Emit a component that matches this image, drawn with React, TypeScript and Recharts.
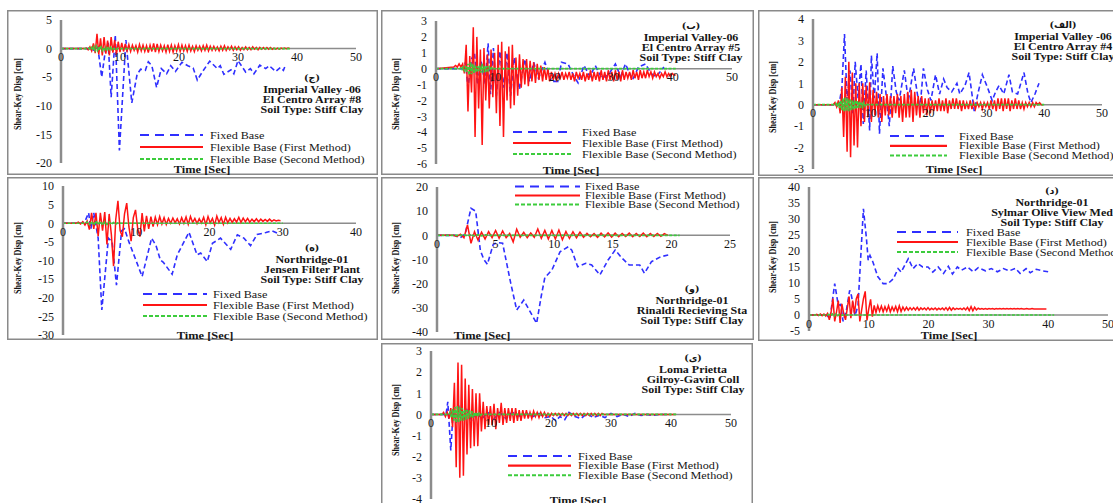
import { LineChart, Line, XAxis, YAxis, ReferenceLine, ReferenceDot } from 'recharts';

const SERIF = 'Liberation Serif';
const BLUE = '#2f2fff';
const RED = '#ff1414';
const GREEN = '#3ccc3c';
const AXIS = '#8c8c8c';
const FRAME = '#8a8a8a';
const INK = '#161616';
const Y_W = 40;

type Pt = { t: number; v: number };

// turning points: [time, displacement]
const pts = (rows: number[][]): Pt[] => rows.map(([t, v]) => ({ t, v }));

// evenly sampled record, at rest before `start`, optionally flat after the last sample
const samples = (start: number, step: number, values: number[], restUntil?: number): Pt[] => {
  const out: Pt[] = [{ t: 0, v: 0 }];
  values.forEach((v, i) => out.push({ t: Math.round((start + i * step) * 100) / 100, v }));
  if (restUntil !== undefined) out.push({ t: restUntil, v: 0 });
  return out;
};

const LEGEND_NAMES = ['Fixed Base', 'Flexible Base (First Method)', 'Flexible Base (Second Method)'];

// ---- Imperial Valley-06, El Centro Array #8 ----
const ec8Fixed = [[0, 0], [5, 0], [5.6, -0.3], [6.2, 0.5], [6.9, -5], [7.5, -0.5], [8.0, 1.0], [8.5, -8.5], [9.2, 2.4], [9.9, -17.8], [11.0, 1.5], [12.0, -9.5], [12.9, -4.5], [13.5, -3.6], [14.3, -3.8], [14.8, -2.3], [15.4, -3], [16.2, -6.8], [17.0, -3.5], [17.9, -4.4], [18.6, -3], [19.4, -4], [20.5, -2.4], [21.5, -3], [22.4, -3.4], [23.1, -5.5], [24.0, -4], [25.2, -2.2], [26.5, -3.5], [27.0, -3], [27.6, -4.5], [28.8, -3.7], [29.3, -4.4], [30.0, -2.1], [31.3, -4.1], [32.1, -3.5], [32.7, -4.4], [33.7, -2.9], [34.7, -3.5], [35.3, -3], [36.4, -4], [37.2, -3.3], [37.7, -3.8], [38.0, -3]];
const ec8First = [0, 0.1, -0.2, 0.3, -0.4, 0.9, -0.8, 2.6, -1.0, 1.8, -1.2, 2.0, -0.9, 1.4, -1.2, 2.0, -0.7, 1.5, -1.0, 1.2, -0.6, 1.0, -0.5, 0.8, -0.4, 0.7, -0.5, 0.6, -0.3, 0.5, -0.6, 0.7, -0.4, 0.6, -0.5, 0.5, -0.7, 0.6, -0.5, 0.9, -0.6, 0.8, -0.5, 0.6, -0.4, 0.5, -0.6, 0.7, -0.5, 0.6, -0.6, 0.5, -0.4, 0.7, -0.5, 0.6, -0.4, 0.5, -0.5, 0.6, -0.4, 0.4, -0.5, 0.5, -0.3, 0.4, -0.4, 0.5, -0.3, 0.6, -0.4, 0.4, -0.3, 0.4, -0.3, 0.3, -0.4, 0.4, -0.3, 0.5, -0.3, 0.3, -0.2, 0.4, -0.3, 0.3, -0.2, 0.3, -0.3, 0.2, -0.2, 0.3, -0.2, 0.2, -0.2, 0.3, -0.1, 0.2, -0.2, 0.2, -0.1, 0.2, -0.1, 0.2, -0.1, 0.2, -0.1, 0.1, -0.1, 0.1, -0.1, 0.1, 0, 0.1, 0, 0.1, 0];
const ec8Second = [0, 0.1, -0.1, 0.2, -0.3, 0.3, -0.3, 0.35, -0.3, 0.3, -0.25, 0.25, -0.3, 0.2, -0.2, 0.2, -0.2, 0.15, -0.15, 0.2, -0.15, 0.1, -0.1, 0.1, -0.1, 0.05, 0];

// ---- Imperial Valley-06, El Centro Array #5 ----
const ec5Fixed = [[0, 0], [4.5, 0], [5.0, 0.4], [5.4, -1.2], [6.0, 0.6], [6.5, 1.0], [7.0, -1.0], [7.6, 0.5], [8.3, -1.0], [8.8, 1.6], [9.2, -1.6], [9.7, 1.3], [10.2, -1.7], [10.8, 1.1], [11.4, -1.2], [12.0, 1.0], [12.6, -1.7], [13.2, 0.7], [14.1, -1.3], [15.0, 0.6], [15.8, -0.8], [16.5, 0.4], [17.3, -0.6], [18.4, 0.4], [19.5, -0.8], [20.6, -0.8], [21.2, 0.4], [22.3, 0.3], [23.2, -0.4], [24.0, -0.9], [25.0, 0.2], [26.0, -0.5], [26.9, 0.2], [28.0, -0.6], [29.1, -0.4], [30.3, 0.3], [31.2, -0.5], [32.0, 0.3], [33.2, -0.7], [34.2, 0.1], [35.4, 0.3], [36.3, -0.3], [37.2, -0.5], [38.5, 0.1]];
const ec5First = [0.1, 0.2, 0.1, 0.3, 0.1, 0.3, -0.3, 1.5, -2.7, 0.8, -1.5, 2.6, -4.3, 2.0, -2.5, 1.2, -4.8, 1.3, -2.0, 0.9, -2.5, 1.2, -1.8, 1.0, -2.8, 1.5, -3.6, 1.7, -4.3, 1.1, -2.0, 1.4, -2.5, 1.5, -2.3, 0.7, -1.7, 0.9, -1.2, 0.6, -1.0, 0.6, -1.1, 0.5, -0.8, 0.4, -0.9, 0.3, -0.7, 0.2, -0.8, 0.1, -0.7, 0, -0.8, -0.2, -0.7, -0.3, -0.7, -0.3, -0.6, -0.2, -0.7, -0.3, -0.6, -0.2, -0.7, -0.3, -0.8, -0.2, -0.6, -0.3, -0.7, -0.2, -0.8, -0.3, -0.7, -0.1, -0.8, -0.2, -0.7, -0.2, -0.8, -0.1, -0.7, -0.2, -0.8, -0.1, -0.7, -0.2, -0.8, -0.1, -0.7, -0.2, -0.8, -0.1, -0.7, -0.2, -0.6, -0.2, -0.7, -0.1, -0.6, -0.2, -0.7, -0.1, -0.6, -0.2, -0.6, -0.1, -0.5, -0.2, -0.6, -0.2, -0.5, -0.3, -0.6, -0.3, -0.5, -0.2, -0.5, -0.3, -0.5, -0.3, -0.4, -0.4];
const ec5Second = [0, 0.05, -0.05, 0.1, -0.1, 0.15, -0.2, 0.3, -0.4, 0.4, -0.35, 0.3, -0.3, 0.2, -0.2, 0.15, -0.15, 0.2, -0.25, 0.3, -0.25, 0.2, -0.2, 0.15, -0.1, 0.1, -0.1, 0.05, -0.05, 0];

// ---- Imperial Valley-06, El Centro Array #4 ----
const ec4Fixed = [[0, 0], [4.5, 0], [5.0, 0.8], [5.45, 3.3], [5.9, 0.2], [6.4, 1.6], [6.9, -0.4], [7.3, 2.0], [7.8, 0.3], [8.3, 1.9], [8.7, -0.9], [9.2, 1.6], [9.8, -1.2], [10.1, 2.3], [10.6, 0.3], [11.1, 2.4], [11.5, -1.35], [12.1, 1.7], [12.6, 0.6], [13.2, -1.0], [13.8, 1.8], [14.4, 0.6], [14.9, 0.2], [15.8, 1.6], [16.5, 0.2], [17.4, 1.7], [18.0, 0.6], [18.5, -0.2], [19.1, 1.7], [19.8, 0.7], [20.4, 0.2], [21.2, 1.4], [21.9, 0.5], [22.6, 1.2], [23.2, 0.8], [24.0, 0.6], [24.9, 1.0], [25.4, 0.5], [26.3, 0.9], [27.0, 1.5], [27.5, 0.5], [27.9, -0.3], [28.6, 0.6], [29.3, 1.4], [30.2, 0.8], [31.0, 0.2], [31.6, 0.6], [32.2, 0.9], [33.0, 0.5], [33.9, 1.4], [34.5, 0.6], [35.4, 0.5], [36.5, 1.5], [37.2, 0.5], [37.7, 0.1], [38.4, 0.5], [39.1, 1.0]];
const ec4First = [0, 0.1, -0.1, 0.2, -0.4, 0.8, -1.5, 1.3, -2.2, 2.0, -2.45, 1.5, -1.9, 1.0, -2.0, 1.0, -1.0, 1.0, -0.8, 0.9, -0.6, 1.05, -0.8, 0.7, -0.5, 0.6, -0.6, 0.5, -0.8, 0.4, -0.5, 0.5, -0.5, 0.4, -0.6, 0.4, -0.4, 0.5, -0.6, 0.4, -0.8, 0.5, -0.6, 0.6, -0.6, 0.7, -0.8, 0.6, -0.5, 0.4, -0.6, 0.4, -0.4, 0.3, -0.5, 0.3, -0.4, 0.2, -0.3, 0.2, -0.3, 0.3, -0.3, 0.2, -0.3, 0.3, -0.4, 0.2, -0.2, 0.3, -0.2, 0.3, -0.2, 0.2, -0.3, 0.2, -0.2, 0.1, -0.2, 0.2, -0.2, 0.1, -0.2, 0.1, -0.1, 0.1, -0.2, 0.1, -0.1, 0.1, -0.2, 0.2, -0.2, 0.2, -0.3, 0.3, -0.2, 0.3, -0.3, 0.3, -0.2, 0.3, -0.3, 0.2, -0.2, 0.3, -0.2, 0.2, -0.2, 0.1, -0.2, 0.1, -0.1, 0.1, -0.1, 0.1, -0.1, 0.1, 0, 0.1, 0, 0];
const ec4Second = [0, 0.05, -0.1, 0.1, -0.15, 0.2, -0.25, 0.3, -0.3, 0.35, -0.3, 0.3, -0.3, 0.25, -0.25, 0.2, -0.25, 0.2, -0.2, 0.2, -0.15, 0.15, -0.15, 0.1, -0.1, 0.1, -0.05, 0.05, 0];

// ---- Northridge-01, Jensen Filter Plant ----
const jensenFixed = [[0, 0], [2.5, 0], [3.0, 0.5], [3.5, 2.8], [3.8, -1.5], [4.2, 2.8], [4.8, -4], [5.3, -23.3], [6.2, -4], [6.7, -5], [7.3, -16.6], [8.0, -2], [8.4, -1.5], [9.0, -5], [10.8, -14.3], [12.1, -4.0], [12.7, -6], [13.3, -9.9], [13.7, -10.5], [14.9, -13.7], [15.6, -8.5], [17.2, -2.4], [18.3, -8.5], [18.8, -8], [19.7, -10.3], [20.4, -5.4], [21.5, -4], [22.2, -5.5], [22.9, -7], [23.8, -3.1], [24.7, -4], [25.6, -6], [26.5, -3], [27.7, -2.5], [28.5, -2.0], [29.3, -2.7]];
const jensenFirst = [0, 0.3, -0.2, 0.4, -0.5, 0.6, -1.7, 2.8, -1.5, 2.8, -3.5, 2.8, -2.0, 3.0, -5.7, 2.5, -3.0, -11.5, 1.0, 6.0, -2.0, -3.6, 2.5, 5.4, -1.0, -4.8, 1.5, 3.6, -1.5, -3.6, 2.7, -2.2, 2.0, -1.5, 1.8, -0.9, 1.6, -0.4, 1.8, -0.2, 1.5, -0.3, 1.3, 0, 1.4, 0.1, 1.2, -0.2, 1.5, 0, 1.7, -0.3, 1.8, 0.2, 1.3, -0.1, 1.2, 0.1, 1.6, -0.4, 1.8, 0.1, 1.3, -0.5, 1.9, 0.2, 1.5, -0.3, 1.6, 0.1, 1.3, 0.2, 1.2, 0.3, 1.6, 0.2, 1.4, 0.4, 1.3, 0.3, 1.1, 0.4, 1.2, 0.4, 1.1, 0.5, 1.0, 0.5, 1.1, 0.5, 0.9, 0.6, 0.8, 0.7];
const jensenSecond = [0, 0.3, -0.3, 0.5, -0.5, 0.6, -0.4, 0.5, -0.5, 0.4, -0.3, 0.3, -0.3, 0.2, -0.2, 0.1, 0];

// ---- Northridge-01, Rinaldi Recieving Sta ----
const rinaldiFixed = [[0, 0], [1.5, 0], [2.0, -1], [2.4, 0.5], [2.9, 11.2], [3.3, 10], [3.7, -6.3], [4.0, -10], [4.3, -12], [4.8, -3.7], [5.2, -3], [5.6, -3.3], [6.3, -20], [6.8, -30.9], [7.4, -26.8], [8.5, -36.4], [8.9, -25], [9.2, -17.5], [9.8, -14.4], [10.5, -6.8], [11.2, -4.7], [11.5, -6.1], [12.0, -13], [12.7, -11.6], [13.2, -12.3], [13.9, -16.4], [14.6, -10.2], [15.2, -6.1], [15.8, -9.5], [16.4, -12.3], [17.3, -12.3], [17.7, -15.7], [18.3, -10.9], [19.1, -8.8], [19.8, -8.1]];
const rinaldiFirst = [0, -0.5, 0.5, -1.0, 4.3, -3.3, 1.5, -2.0, 1.3, -1.5, 1.5, -1.0, 2.0, -1.2, 1.8, -1.0, 0.8, -2.7, 2.5, -0.8, 1.2, -1.0, 1.0, -0.8, 2.6, -1.2, 2.0, -1.5, 2.0, -1.5, 2.2, -1.8, 1.6, -1.3, 1.5, -1.0, 1.3, -0.8, 0.8, -0.6, 0.7, -0.8, 0.9, -0.6, 1.0, -0.7, 0.9, -0.6, 0.8, -0.5, 0.9, -0.6, 0.8, -0.5, 0.9, -0.6, 0.8, -0.5, 0.8, -0.4, 0.7, 0];
const rinaldiSecond = [0, 0.3, -0.3, 0.4, -0.3, 0.3, -0.2, 0.2, 0];

// ---- Northridge-01, Sylmar Olive View Med ----
const sylmarFixed = [[0, 0], [3.0, 0], [3.5, -1.2], [4.3, 9.8], [4.9, 3], [5.3, 3.3], [5.7, -2], [6.3, 2], [6.8, 7.7], [7.1, 6], [7.7, -0.2], [8.2, 3], [9.1, 33.2], [9.6, 24], [9.9, 17.1], [10.2, 18.6], [10.7, 16.5], [11.5, 12], [12.4, 9.8], [13.2, 9.8], [14.1, 11.3], [14.9, 14.5], [15.4, 13.4], [16.6, 17.6], [17.4, 14.5], [18.2, 16.1], [19.0, 15], [19.9, 15.0], [20.7, 13.4], [21.6, 15], [22.5, 13], [23.3, 15.2], [24.0, 12.8], [24.8, 15], [25.5, 14], [26.5, 15], [27.5, 13.5], [28.3, 14.8], [29.5, 13.8], [30.5, 14.5], [31.5, 13.5], [32.5, 14.5], [33.5, 13.8], [34.5, 14.6], [35.3, 13], [36.3, 14.5], [37.0, 13.2], [38.0, 14.3], [39.0, 13.8], [40.0, 13.5]];
const sylmarFirst = [0, 0.2, -0.2, 0.3, -0.2, 0.3, -0.3, 0.5, -1.5, 1.0, 5.1, -2.0, 1.0, 4.5, -2.5, 3.5, 0.5, -1.5, 2.0, 5.8, -1.0, 4.5, 0.5, 5.0, 6.6, -2.0, 1.5, 5.0, 7.4, -1.7, 2.0, 4.9, -0.5, 3.0, 0.8, 2.9, 1.2, 2.8, 1.0, 2.6, 1.2, 2.9, 1.0, 2.5, 1.3, 2.7, 1.0, 2.9, 1.1, 2.5, 1.4, 2.4, 1.5, 2.3, 1.6, 2.3, 1.6, 2.4, 1.5, 2.2, 1.7, 2.2, 1.6, 2.3, 1.6, 2.1, 1.7, 2.2, 1.6, 2.1, 1.7, 2.2, 1.6, 2.3, 1.5, 2.4, 1.5, 2.2, 1.7, 2.1, 1.8, 2.1, 1.7, 2.2, 1.6, 2.4, 1.4, 2.6, 1.3, 2.4, 1.6, 2.1, 1.8, 2.0, 1.8, 2.0, 1.8, 2.0, 1.9, 2.0, 1.8, 2.0, 1.9, 2.0, 1.9, 2.0, 1.9, 2.0, 1.9, 2.0, 1.9, 2.0, 1.9, 2.0, 1.9, 2.0, 1.9, 1.9, 2.0, 1.9, 1.9, 2.0, 1.9, 1.9, 1.9, 1.9, 1.9, 1.9, 1.9, 1.9];
const sylmarSecond = [0, 0.2, -0.2, 0.3, -0.3, 0.3, -0.2, 0.2, -0.1, 0];

// ---- Loma Prieta, Gilroy-Gavin Coll ----
const gilroyFixed = [[0, 0], [2.5, 0], [2.8, 0.6], [3.3, -1.7], [3.7, 0.2], [4.2, -0.4], [4.8, 0.3], [5.4, -0.3], [6.0, 0.2], [6.8, -0.3], [7.5, 0.1], [8.5, -0.2], [9.5, 0.1], [10.5, -0.2], [11.5, 0.1], [12.5, -0.2], [13.5, 0.1], [15, -0.1], [16, 0.05], [17, -0.1], [18, 0.05], [19, -0.15], [20, -0.1], [20.8, -0.3], [21.5, -0.1], [22.3, -0.25], [23, 0.1], [24, -0.1], [25, -0.2], [26, 0.05], [27, -0.15], [28, -0.05], [29, -0.15], [30, 0.05], [31, -0.1], [32, 0], [33, -0.1], [34, 0.05], [35, -0.05], [36, 0], [37, -0.05], [38, 0], [40, 0]];
const gilroyFirst = [0, 0.1, -0.1, 0.1, -0.2, 0.3, -0.6, 1.5, -2.5, 2.45, -3.0, 2.35, -2.9, 1.7, -1.9, 1.4, -1.6, 1.2, -1.5, 1.0, -1.5, 1.0, -0.8, 0.6, -0.7, 0.4, -0.5, 0.4, -0.5, 0.5, -0.7, 0.3, -0.4, 0.55, -0.5, 0.3, -0.4, 0.3, -0.3, 0.3, -0.4, 0.3, -0.3, 0.2, -0.3, 0.2, -0.2, 0.2, -0.2, 0.1, -0.2, 0.15, -0.1, 0.1, -0.15, 0.1, -0.1, 0.1, -0.1, 0.05, -0.1, 0.05, -0.05, 0.05, -0.05, 0.05, -0.05, 0.05, -0.05, 0.05, -0.05, 0.05, -0.05, 0.05, -0.05, 0.05, -0.05, 0.05, -0.05, 0.05, -0.05, 0.05, -0.05, 0.05, -0.05, 0.05, -0.05, 0.05, -0.05, 0.05, 0];
const gilroySecond = [0, 0.1, -0.15, 0.25, -0.3, 0.35, -0.4, 0.4, -0.35, 0.35, -0.3, 0.3, -0.3, 0.25, -0.25, 0.2, -0.2, 0.2, -0.15, 0.15, -0.15, 0.1, -0.1, 0.1, -0.1, 0.05, -0.05, 0];

type PanelSpec = {
  id: string;
  tag: string;
  caption: string[];
  frame: number[]; // left, top, right, bottom (page px)
  plot: number[]; // left, top, right, bottom (page px)
  xMax: number;
  xTicks: number[];
  yTicks: number[];
  fixed: Pt[];
  first: Pt[];
  second: Pt[];
  yTitle: number[];
  xTitle: number[];
  captionAt: number[];
  legend: number[]; // line start, line end, text x, first row y, row gap
};

const panels: PanelSpec[] = [
  {
    id: 'ec8', tag: '(ج)', caption: ['Imperial Valley -06', 'El Centro Array #8', 'Soil Type: Stiff Clay'],
    frame: [7, 10, 378, 175], plot: [61, 20, 356, 163],
    xMax: 50, xTicks: [0, 10, 20, 30, 40, 50], yTicks: [-20, -15, -10, -5, 0, 5],
    fixed: pts(ec8Fixed), first: samples(4.0, 0.3, ec8First), second: samples(4.6, 0.2, ec8Second, 39),
    yTitle: [17, 94], xTitle: [202, 170], captionAt: [312, 77], legend: [140, 203, 210, 135, 12],
  },
  {
    id: 'ec5', tag: '(ب)', caption: ['Imperial Valley-06', 'El Centro Array #5', 'Soil Type: Stiff Clay'],
    frame: [381, 10, 754, 175], plot: [436, 21, 732, 164],
    xMax: 50, xTicks: [0, 10, 20, 30, 40, 50], yTicks: [-6, -5, -4, -3, -2, -1, 0, 1, 2, 3],
    fixed: pts(ec5Fixed), first: samples(3.0, 0.3, ec5First), second: samples(4.0, 0.2, ec5Second, 40.5),
    yTitle: [395, 94], xTitle: [571, 171], captionAt: [691, 25], legend: [513, 571, 582, 132, 11],
  },
  {
    id: 'ec4', tag: '(الف)', caption: ['Imperial Valley -06', 'El Centro Array #4', 'Soil Type: Stiff Clay'],
    frame: [758, 10, 1125, 176], plot: [813, 19, 1102, 169],
    xMax: 50, xTicks: [0, 10, 20, 30, 40, 50], yTicks: [-3, -2, -1, 0, 1, 2, 3, 4],
    fixed: pts(ec4Fixed), first: samples(3.5, 0.3, ec4First), second: samples(3.8, 0.2, ec4Second, 40),
    yTitle: [772, 97], xTitle: [954, 170], captionAt: [1063, 24], legend: [890, 947, 959, 136, 9.8],
  },
  {
    id: 'jensen', tag: '(ه)', caption: ['Northridge-01', 'Jensen Filter Plant', 'Soil Type: Stiff Clay'],
    frame: [7, 177, 378, 340], plot: [63, 186, 356, 335],
    xMax: 40, xTicks: [0, 10, 20, 30, 40], yTicks: [-30, -25, -20, -15, -10, -5, 0, 5, 10],
    fixed: pts(jensenFixed), first: samples(1.8, 0.3, jensenFirst), second: samples(3.0, 0.3, jensenSecond, 30),
    yTitle: [17, 258], xTitle: [205, 336], captionAt: [312, 247], legend: [143, 207, 213, 294, 11],
  },
  {
    id: 'rinaldi', tag: '(و)', caption: ['Northridge-01', 'Rinaldi Recieving Sta', 'Soil Type: Stiff Clay'],
    frame: [381, 177, 754, 340], plot: [437, 187, 730, 332],
    xMax: 25, xTicks: [0, 5, 10, 15, 20, 25], yTicks: [-40, -30, -20, -10, 0, 10, 20],
    fixed: pts(rinaldiFixed), first: samples(1.4, 0.3, rinaldiFirst), second: samples(2.0, 0.3, rinaldiSecond, 20.7),
    yTitle: [395, 258], xTitle: [482, 336], captionAt: [692, 288], legend: [515, 580, 585, 186.5, 9],
  },
  {
    id: 'sylmar', tag: '(د)', caption: ['Northridge-01', 'Sylmar Olive View Med', 'Soil Type: Stiff Clay'],
    frame: [758, 177, 1125, 341], plot: [809, 187, 1108, 331],
    xMax: 50, xTicks: [0, 10, 20, 30, 40, 50], yTicks: [-5, 0, 5, 10, 15, 20, 25, 30, 35, 40],
    fixed: pts(sylmarFixed), first: samples(1.0, 0.3, sylmarFirst), second: samples(3.0, 0.3, sylmarSecond, 41),
    yTitle: [772, 257], xTitle: [949, 336], captionAt: [1052, 190], legend: [897, 958, 966, 232, 10],
  },
  {
    id: 'gilroy', tag: '(ی)', caption: ['Loma Prietta', 'Gilroy-Gavin Coll', 'Soil Type: Stiff Clay'],
    frame: [381, 343, 753, 520], plot: [431, 351, 731, 499],
    xMax: 50, xTicks: [0, 10, 20, 30, 40, 50], yTicks: [-4, -3, -2, -1, 0, 1, 2, 3],
    fixed: pts(gilroyFixed), first: samples(1.8, 0.3, gilroyFirst, 40.8), second: samples(3.0, 0.2, gilroySecond, 41),
    yTitle: [395, 420], xTitle: [578, 501], captionAt: [693, 357], legend: [508, 571, 578, 456, 9.6],
  },
];

const LEGEND_STYLES = [
  { stroke: BLUE, dash: '9 6', width: 2.2 },
  { stroke: RED, dash: undefined, width: 2.2 },
  { stroke: GREEN, dash: '4 2', width: 2 },
];

// wide, short lettering as set in the figure
const WIDE = 'scale(1.13,1)';

function Panel({ p }: { p: PanelSpec }) {
  const [fx, fy, fr, fb] = p.frame;
  const [px, py, pr, pb] = p.plot;
  const w = fr - fx;
  const h = fb - fy;
  const margin = { top: py - fy, right: fr - pr, bottom: fb - pb, left: px - fx - Y_W };
  const [l0, l1, tx, ry, gap] = p.legend;
  const [cx, cy] = p.captionAt;
  const capY = [0, 12.5, 22.5, 32];

  return (
    <div
      style={{
        position: 'absolute', left: fx, top: fy, width: w, height: h,
        boxShadow: `inset 0 0 0 1.5px ${FRAME}`,
      }}
    >
      <LineChart width={w} height={h} margin={margin} style={{ position: 'absolute', left: 0, top: 0 }}>
        <XAxis type="number" dataKey="t" domain={[0, p.xMax]} hide allowDataOverflow />
        <YAxis
          type="number"
          domain={[p.yTicks[0], p.yTicks[p.yTicks.length - 1]]}
          ticks={p.yTicks}
          interval={0}
          width={Y_W}
          allowDataOverflow
          axisLine={{ stroke: AXIS, strokeWidth: 2.5 }}
          tickLine={false}
          tickMargin={3}
          tick={{ fontSize: 12, fill: INK, fontFamily: SERIF }}
        />
        <ReferenceLine y={0} stroke={AXIS} strokeWidth={1.5} />
        {p.xTicks.map((t) => (
          <ReferenceDot
            key={t}
            x={t}
            y={0}
            r={0}
            fill="none"
            stroke="none"
            label={{ value: String(t), position: 'bottom', offset: 4, fontSize: 12, fill: INK, fontFamily: SERIF }}
          />
        ))}
        <Line data={p.fixed} dataKey="v" type="linear" stroke={BLUE} strokeWidth={1.6} strokeDasharray="5 3"
          dot={false} activeDot={false} isAnimationActive={false} />
        <Line data={p.first} dataKey="v" type="linear" stroke={RED} strokeWidth={1.5}
          dot={false} activeDot={false} isAnimationActive={false} />
        <Line data={p.second} dataKey="v" type="linear" stroke={GREEN} strokeWidth={1.7} strokeDasharray="3 1.5"
          dot={false} activeDot={false} isAnimationActive={false} />
      </LineChart>

      <svg width={w} height={h} style={{ position: 'absolute', left: 0, top: 0, overflow: 'visible', pointerEvents: 'none', fontFamily: SERIF }}
        fill={INK}>
        <text
          transform={`translate(${p.yTitle[0] - fx},${p.yTitle[1] - fy}) rotate(-90)`}
          textAnchor="middle" dominantBaseline="central" fontSize={11} fontWeight="bold"
          textLength={72} lengthAdjust="spacingAndGlyphs"
        >
          Shear-Key Disp [cm]
        </text>
        <text transform={`translate(${p.xTitle[0] - fx},${p.xTitle[1] - fy}) ${WIDE}`} textAnchor="middle"
          dominantBaseline="central" fontSize={11} fontWeight="bold">
          Time [Sec]
        </text>

        <text x={cx - fx} y={cy - fy} textAnchor="middle" dominantBaseline="central" fontSize={9.5} fontWeight="bold"
          style={{ fontFamily: '"DejaVu Serif", "DejaVu Sans", serif' }}>
          {p.tag}
        </text>
        {p.caption.map((line, i) => (
          <text key={line} transform={`translate(${cx - fx},${cy - fy + capY[i + 1]}) ${WIDE}`}
            textAnchor="middle" dominantBaseline="central" fontSize={10.6} fontWeight="bold">
            {line}
          </text>
        ))}

        {LEGEND_NAMES.map((name, i) => {
          const y = ry - fy + i * gap;
          const s = LEGEND_STYLES[i];
          return (
            <g key={name}>
              <line x1={l0 - fx} x2={l1 - fx} y1={y} y2={y} stroke={s.stroke} strokeWidth={s.width}
                strokeDasharray={s.dash} />
              <text transform={`translate(${tx - fx},${y}) scale(1.16,1)`} dominantBaseline="central"
                fontSize={10.5}>
                {name}
              </text>
            </g>
          );
        })}
      </svg>
    </div>
  );
}

export default function App() {
  return (
    <div
      style={{
        position: 'absolute', left: 0, top: 0, width: 1113, height: 503,
        overflow: 'hidden', background: '#fff', fontFamily: SERIF,
      }}
    >
      {panels.map((p) => (
        <Panel key={p.id} p={p} />
      ))}
    </div>
  );
}
